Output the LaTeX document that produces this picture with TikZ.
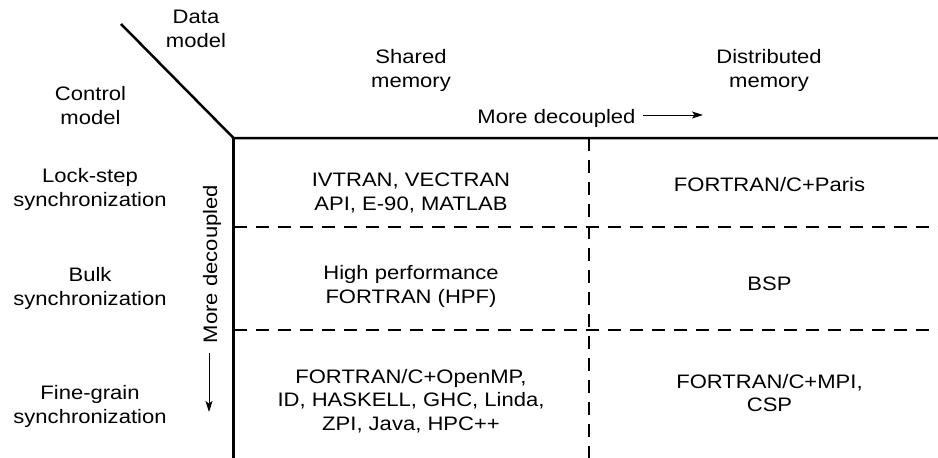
\documentclass[tikz,border=0pt]{standalone}
\usepackage{fontspec}
\setmainfont[FakeStretch=1.13]{Liberation Sans}
\usetikzlibrary{arrows.meta}
\begin{document}
\begin{tikzpicture}[x=1pt,y=-1pt,
  lbl/.style={font=\fontsize{19.5}{23.5}\selectfont, align=center, inner sep=0pt, anchor=base},
  frame/.style={line width=2.5pt},
  gridline/.style={line width=2.3pt, dash pattern=on 13pt off 9pt},
  arr/.style={line width=1pt,-{Stealth[length=11pt,width=7pt,inset=2.5pt]}}]
\useasboundingbox (0,0) rectangle (938,458);
% frame coordinates
\coordinate (diagtop) at (121,24);
\coordinate (corner) at (233.5,138);
\coordinate (topR) at (938,138);
\coordinate (botL) at (233.5,458);
\coordinate (colT) at (589,138);
\coordinate (colB) at (589,458);
\coordinate (r1L) at (233.5,227);
\coordinate (r1R) at (938,227);
\coordinate (r2L) at (233.5,330);
\coordinate (r2R) at (938,330);
\coordinate (ha1) at (643,115);
\coordinate (ha2) at (703,115);
\coordinate (va1) at (209,353);
\coordinate (va2) at (209,412);
% lines
\draw[frame] (diagtop) -- (corner) -- (topR);
\draw[frame] (corner) -- (botL);
\draw[gridline] (colT) -- (colB);
\draw[gridline] (r1L) -- (r1R);
\draw[gridline] (r2L) -- (r2R);
\draw[arr] (ha1) -- (ha2);
\draw[arr] (va1) -- (va2);
% labels (anchor = baseline of the last line)
\node[lbl] (data) at (196,47) {Data\\model};
\node[lbl] (control) at (90.5,124) {Control\\model};
\node[lbl] (shared) at (411,87) {Shared\\memory};
\node[lbl] (dist) at (769,87) {Distributed\\memory};
\node[lbl] (hdec) at (556.5,123) {More decoupled};
\node[lbl, rotate=90] (vdec) at (217,264) {More decoupled};
\node[lbl] (lock) at (90,206) {Lock-step\\synchronization};
\node[lbl] (bulk) at (90,305) {Bulk\\synchronization};
\node[lbl] (fine) at (90,423) {Fine-grain\\synchronization};
\node[lbl] (c11) at (411,210) {IVTRAN, VECTRAN\\API, E-90, MATLAB};
\node[lbl] (c21) at (411,303) {High performance\\FORTRAN (HPF)};
\node[lbl] (c31) at (411,430) {FORTRAN/C+OpenMP,\\ID, HASKELL, GHC, Linda,\\ZPI, Java, HPC++};
\node[lbl] (c12) at (769.5,191.5) {FORTRAN/C+Paris};
\node[lbl] (c22) at (769.5,290.5) {BSP};
\node[lbl] (c32) at (769.5,411.5) {FORTRAN/C+MPI,\\CSP};
\end{tikzpicture}
\end{document}
